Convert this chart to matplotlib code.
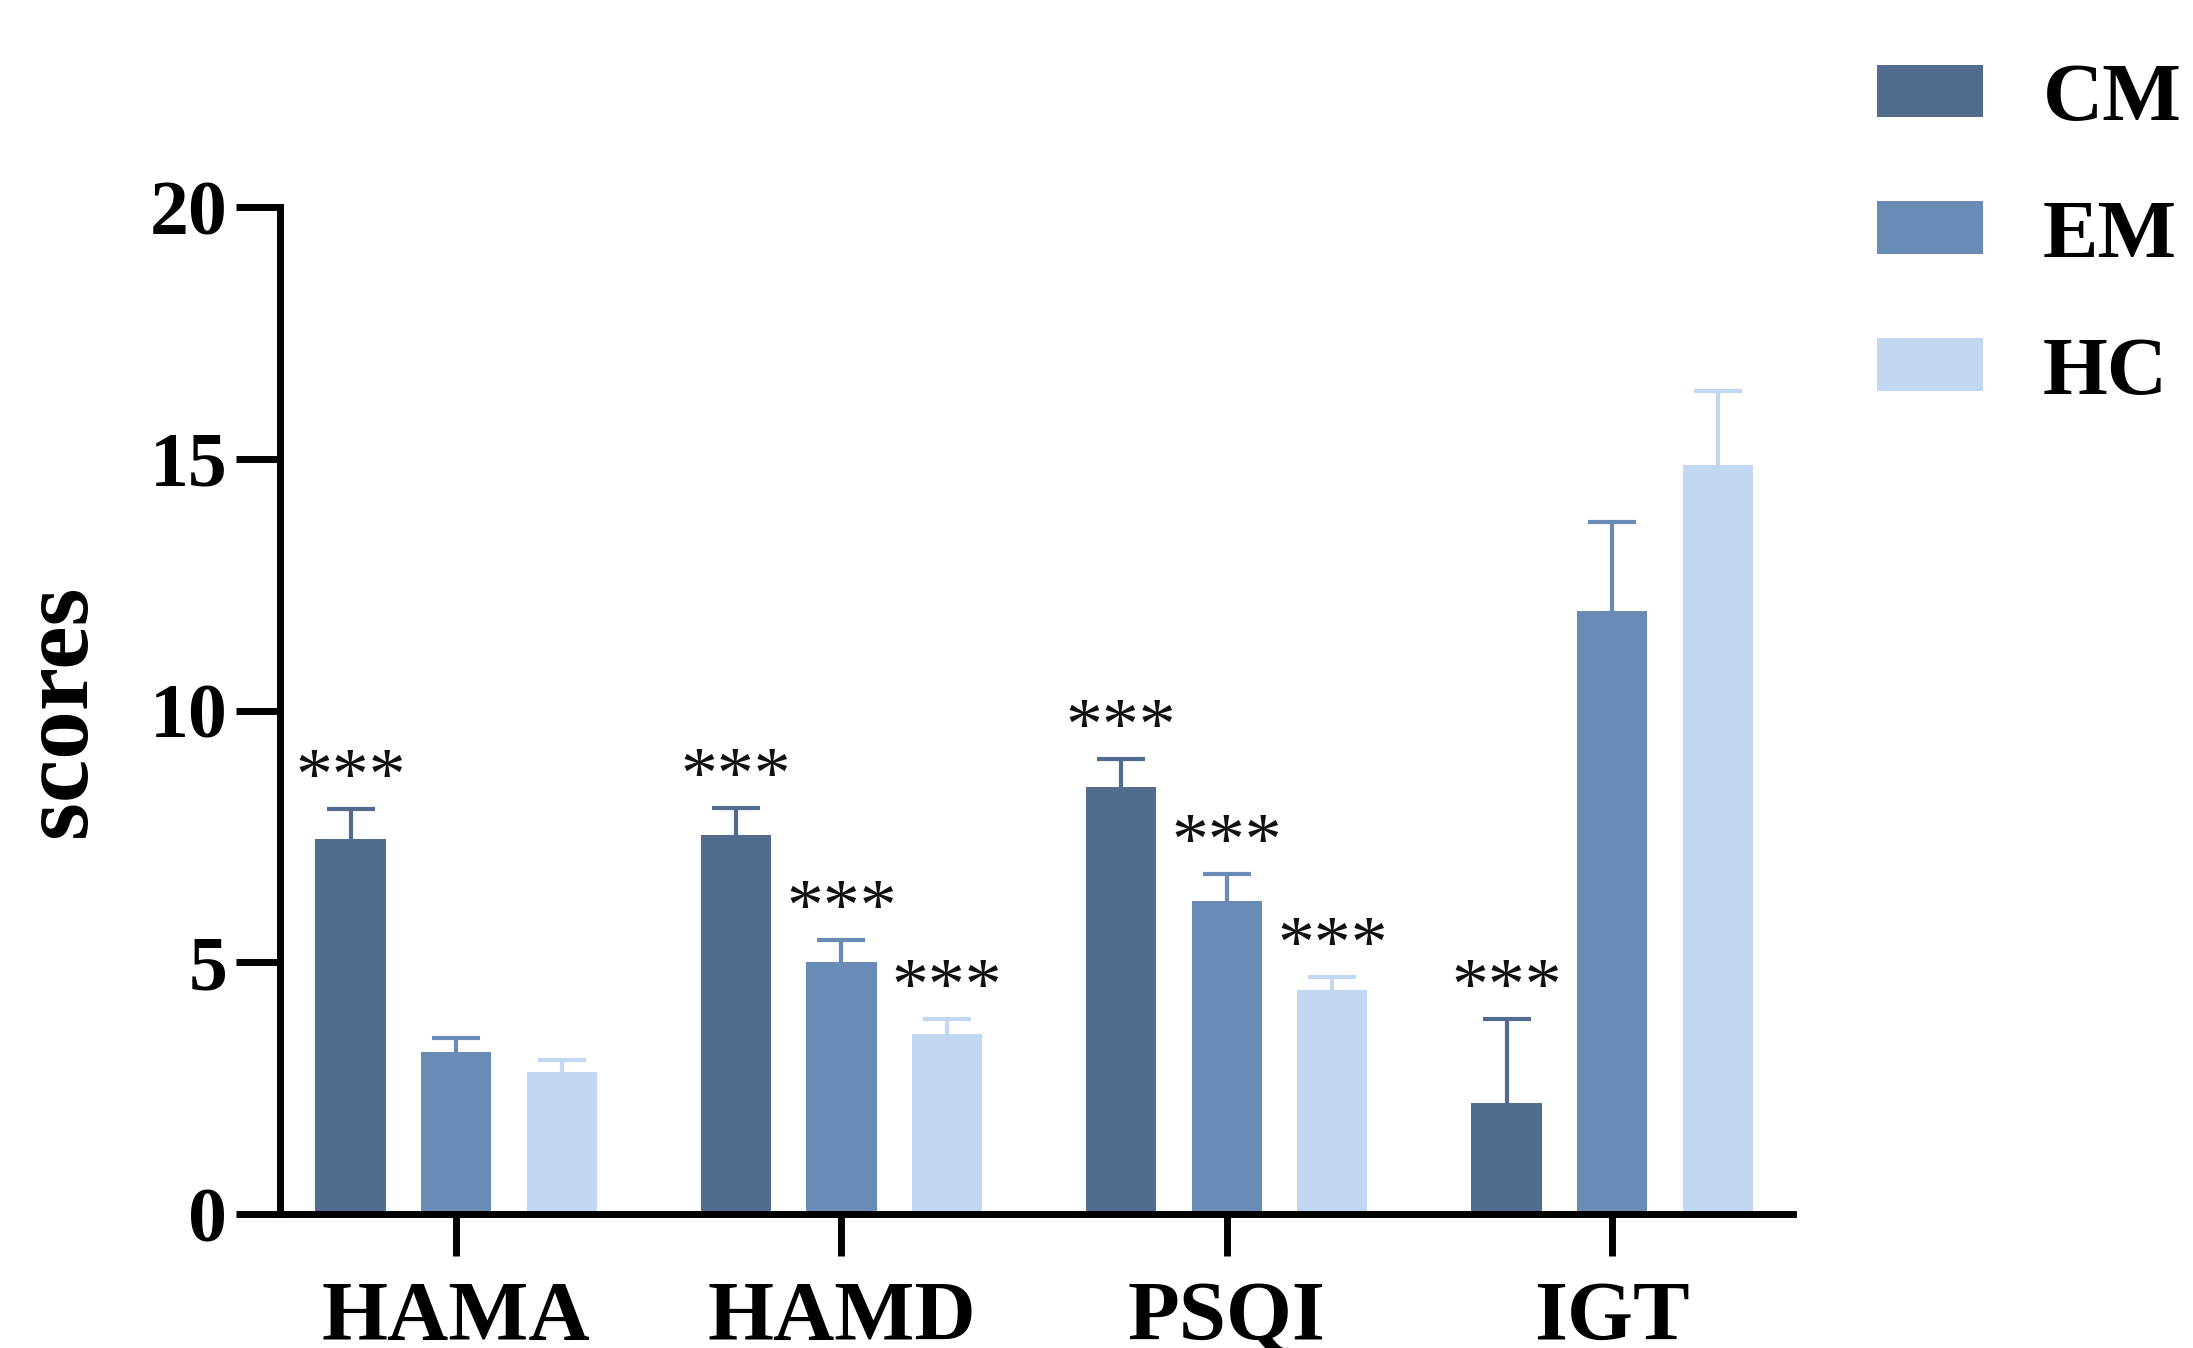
import matplotlib
matplotlib.use("Agg")
import matplotlib.pyplot as plt
import numpy as np

plt.rcParams["font.family"] = ["Liberation Serif", "DejaVu Serif"]

# data
measures = ["HAMA", "HAMD", "PSQI", "IGT"]
groups = ["CM", "EM", "HC"]
cm_mean = [7.45, 7.52, 8.48, 2.20]
em_mean = [3.22, 5.00, 6.22, 11.97]
hc_mean = [2.83, 3.58, 4.45, 14.88]
cm_err = [0.60, 0.55, 0.55, 1.67]
em_err = [0.28, 0.44, 0.53, 1.78]
hc_err = [0.23, 0.30, 0.25, 1.47]
# significance marks per bar ("" = none)
cm_sig = ["***", "***", "***", "***"]
em_sig = ["", "***", "***", ""]
hc_sig = ["", "***", "***", ""]

colors = ["#526c8f", "#698bb6", "#c2d7f2"]

means = [cm_mean, em_mean, hc_mean]
errs = [cm_err, em_err, hc_err]
sigs = [cm_sig, em_sig, hc_sig]

fig = plt.figure(figsize=(21.93, 13.48), dpi=100)
ax = fig.add_axes([0.1277, 0.0994, 0.690, 0.747])

x = np.arange(len(measures))
step = 0.274
width = 0.182

for i, (g, m, e, s, c) in enumerate(zip(groups, means, errs, sigs, colors)):
    xi = x + (i - 1) * step
    ax.bar(xi, m, width=width, color=c, label=g, zorder=2)
    eb = ax.errorbar(xi, m, yerr=[np.zeros(len(m)), e], fmt="none",
                     ecolor=c, elinewidth=3.0, capsize=17, capthick=3.0,
                     zorder=2)
    # only the upper cap, the lower one would sit on the bar top
    eb[1][0].set_visible(False)
    for xx, mm, ee, ss in zip(xi, m, e, s):
        if ss:
            ax.text(xx, mm + ee + 0.2, ss, ha="center", va="baseline",
                    fontsize=53, color="#111111")

ax.set_xlim(-0.457, 3.47)
ax.set_ylim(0, 20)
ax.set_yticks([0, 5, 10, 15, 20])
ax.set_xticks(x)
ax.set_xticklabels(measures, fontsize=61, fontweight="bold")
for lab in ax.get_yticklabels():
    lab.set_fontsize(56)
    lab.set_fontweight("bold")

for side in ("top", "right"):
    ax.spines[side].set_visible(False)
for side in ("left", "bottom"):
    ax.spines[side].set_linewidth(5)
    ax.spines[side].set_zorder(3)
ax.tick_params(axis="y", length=32, width=5, pad=6)
ax.tick_params(axis="x", length=30, width=5, pad=18)

ax.set_ylabel("scores", fontsize=70, fontweight="bold")
ax.yaxis.set_label_coords(-0.115, 0.5)

fig.legend(loc="upper left", bbox_to_anchor=(0.856, 0.953), frameon=False,
           prop={"size": 60, "weight": "bold"}, handlelength=1.27,
           handleheight=0.6, handletextpad=0.72, labelspacing=0.74,
           borderpad=0, borderaxespad=0)

fig.savefig("out.png", dpi=100)
